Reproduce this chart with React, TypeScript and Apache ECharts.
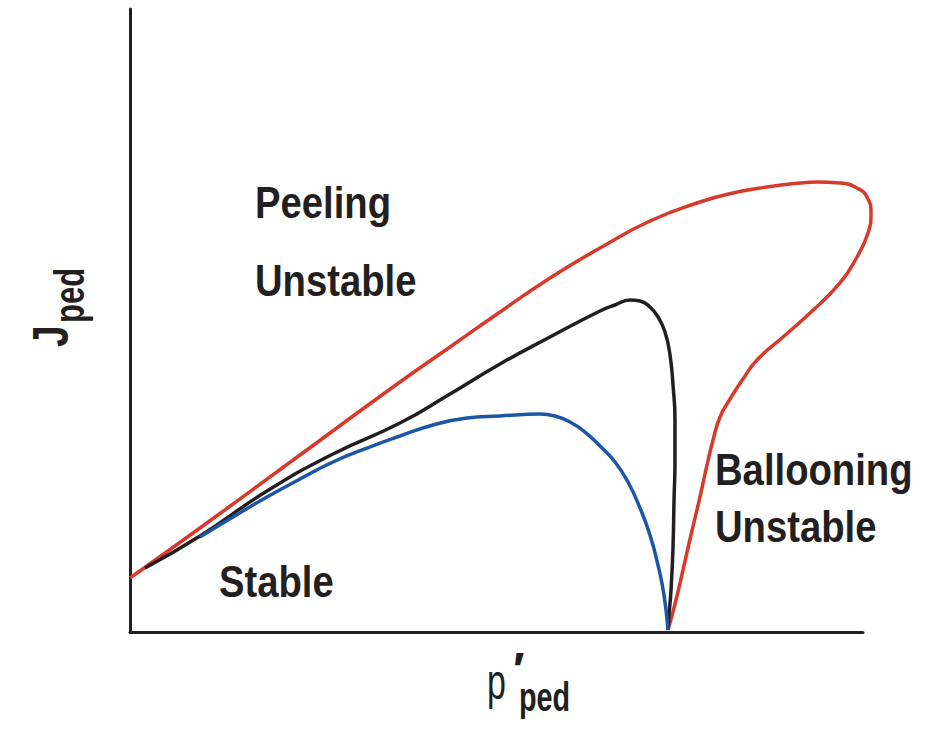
import React, { useEffect, useRef } from "react";
import * as echarts from "echarts";

// Curves in plot units: x 0..100 (p'_ped), y 0..100 (J_ped)
const redX = [0, 9.55, 23.19, 36.83, 43.66, 50.48, 57.30, 64.12, 70.94, 77.76, 82.26, 86.90, 91.41, 93.72, 96.86, 99.18, 100.55, 101.09, 100.68, 99.18, 96.86, 92.77, 89.09, 85.54, 83.63, 81.86, 80.49, 79.54, 78.72, 77.76, 76.53, 75.44, 74.49, 73.40];
const redY = [8.67, 16.69, 28.41, 40.13, 45.75, 51.36, 56.82, 61.64, 65.97, 69.02, 70.47, 71.43, 72.07, 72.23, 72.07, 71.27, 69.82, 67.26, 64.04, 60.19, 56.02, 51.20, 47.35, 43.66, 40.61, 37.40, 34.51, 30.82, 26.81, 21.67, 15.57, 9.95, 5.14, 0.32];

const blackX = [2.05, 9.55, 18.69, 27.69, 36.83, 43.66, 50.48, 57.30, 64.12, 66.17, 68.21, 69.58, 70.94, 72.03, 72.99, 73.67, 74.08, 74.35, 74.35, 74.22, 74.08, 73.81, 73.53, 73.40];
const blackY = [10.27, 15.41, 22.63, 28.57, 33.55, 38.20, 43.02, 47.35, 51.52, 52.49, 53.29, 53.13, 52.17, 50.56, 48.15, 44.46, 39.65, 34.03, 27.61, 21.19, 13.64, 6.74, 2.73, 0.32];

const blueX = [9.55, 14.05, 18.69, 23.19, 27.69, 32.33, 36.83, 41.34, 45.98, 50.48, 55.93, 57.98, 60.03, 62.07, 64.12, 66.17, 67.94, 69.58, 70.94, 72.03, 72.85, 73.40];
const blueY = [15.25, 18.46, 21.67, 24.56, 27.29, 29.53, 31.46, 33.23, 34.35, 34.67, 34.99, 34.67, 33.71, 32.10, 29.86, 27.29, 24.08, 19.90, 15.57, 10.75, 5.94, 0.32];

const regionLabels = ["Peeling", "Unstable", "Stable", "Ballooning", "Unstable"];
const axisTexts = { yMain: "J", ySub: "ped", xMain: "p", xPrime: "\u2032", xSub: "ped" };

const INK = "#231f20";
const FONT = "'Liberation Sans', Arial, Helvetica, sans-serif";

// layout
const W = 934;
const GRID_LEFT = 130;
const GRID_RIGHT = 71;
const CURVE_RIGHT = 30; // wider hidden grid so the red loop can run past the axis end
const X_MAX = 100;
const X_MAX_WIDE = (X_MAX * (W - GRID_LEFT - CURVE_RIGHT)) / (W - GRID_LEFT - GRID_RIGHT);

const zip = (xs: number[], ys: number[]) => xs.map((x, i) => [x, ys[i]]);

function txt(text: string, x: number, y: number, size: number, opts: any = {}) {
  return {
    type: "text",
    x,
    y,
    rotation: opts.rotation || 0,
    scaleX: opts.scaleX ?? 0.85,
    silent: true,
    style: {
      text,
      fill: INK,
      fontSize: size,
      fontWeight: opts.weight || "bold",
      fontFamily: opts.family || FONT,
      align: "left",
      verticalAlign: "middle",
      textAlign: "left",
      textVerticalAlign: "middle",
    },
  };
}

export default function App() {
  const ref = useRef<HTMLDivElement>(null);
  useEffect(() => {
    document.body.style.margin = "0";
    if (!ref.current) return;
    const chart = echarts.init(ref.current, null, { renderer: "svg" });
    const axisCommon = {
      type: "value",
      min: 0,
      max: 100,
      axisLine: { show: true, lineStyle: { color: INK, width: 3 } },
      axisTick: { show: false },
      axisLabel: { show: false },
      splitLine: { show: false },
    };
    const hidden = {
      type: "value",
      min: 0,
      show: false,
      gridIndex: 1,
    };
    const line = (data: number[][], color: string, z: number) => ({
      type: "line",
      data,
      xAxisIndex: 1,
      yAxisIndex: 1,
      symbol: "none",
      smooth: 0.5,
      clip: false,
      z,
      lineStyle: { color, width: 3.5 },
    });
    chart.setOption({
      animation: false,
      backgroundColor: "#ffffff",
      grid: [
        { left: GRID_LEFT, right: GRID_RIGHT, top: 9, bottom: 109 },
        { left: GRID_LEFT, right: CURVE_RIGHT, top: 9, bottom: 109 },
      ],
      xAxis: [{ ...axisCommon, gridIndex: 0 }, { ...hidden, max: X_MAX_WIDE }],
      yAxis: [{ ...axisCommon, gridIndex: 0 }, { ...hidden, max: 100 }],
      series: [
        line(zip(redX, redY), "#d8392b", 2),
        line(zip(blackX, blackY), INK, 3),
        line(zip(blueX, blueY), "#1c56a6", 4),
      ],
      graphic: [
        txt(regionLabels[0], 255, 202, 45),
        txt(regionLabels[1], 255, 280, 45),
        txt(regionLabels[2], 219, 581, 45),
        txt(regionLabels[3], 715, 469, 45),
        txt(regionLabels[4], 715, 526, 45),
        txt(axisTexts.yMain, 51, 347, 50, { rotation: Math.PI / 2, scaleX: 0.78 }),
        txt(axisTexts.ySub, 70, 323, 42, { rotation: Math.PI / 2, scaleX: 0.74 }),
        txt(axisTexts.xMain, 487, 681, 50, { weight: "normal", scaleX: 0.68 }),
        txt(axisTexts.xPrime, 513, 669, 48, { weight: "bold", scaleX: 1.0, family: FONT }),
        txt(axisTexts.xSub, 519, 697, 40, { scaleX: 0.72 }),
      ],
    });
    return () => chart.dispose();
  }, []);
  return <div ref={ref} style={{ width: 934, height: 741 }} />;
}
